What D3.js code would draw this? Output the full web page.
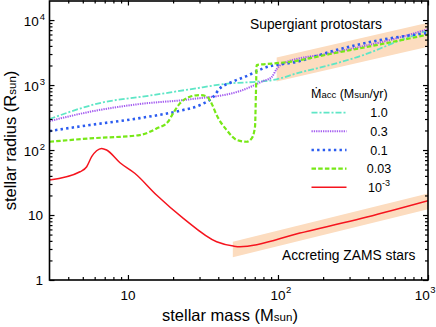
<!DOCTYPE html>
<html><head><meta charset="utf-8">
<script src="https://cdn.jsdelivr.net/npm/d3@7"></script>
<style>
html,body{margin:0;padding:0;background:#fff;}
svg{display:block;font-family:"Liberation Sans",Arial,Helvetica,sans-serif;}
</style></head>
<body><svg id="c" width="436" height="327"></svg>
<script>
// ---- data (stellar mass in Msun, stellar radius in Rsun) ----
const seriesNames = ["1.0", "0.3", "0.1", "0.03", "1e-3"];
const massA = [3, 6.5, 14.0, 25.9, 47.9, 72.1, 98, 133, 222, 371, 618, 1000];
const radA  = [300, 528, 689, 859, 1062, 1125, 1225, 1514, 2032, 2897, 4634, 7000];
const massB = [3, 5.58, 12.0, 25.9, 55.8, 79.4, 90.8, 98, 108, 222, 618, 1000];
const radB  = [279, 388, 511, 603, 809, 1148, 1327, 1762, 2158, 3090, 5248, 7244];
const massC = [3, 5.58, 12.0, 22.2, 30.2, 37.1, 41.0, 47.9, 61.8, 79.8, 140, 222, 479, 1000];
const radC  = [196, 243, 310, 403, 492, 661, 889, 1084, 1374, 1807, 2339, 3251, 4920, 6310];
const massD = [3, 5.58, 12.0, 15.6, 18.5, 20.0, 22.2, 25.9, 30.2, 33.7, 36.1, 39.0, 45.5, 53.1, 61.8, 66.8, 70.3, 71.3, 72.1, 84.1, 120, 222, 479, 1000];
const radD  = [134, 151, 170, 216, 272, 367, 522, 661, 702, 661, 522, 345, 203, 143, 134, 151, 228, 753, 2032, 2104, 2280, 3000, 4227, 5960];
const massE = [3, 4.79, 5.31, 5.73, 6.18, 6.68, 7.21, 8.85, 11.1, 15.5, 23.4, 39.0, 50.4, 55.8, 140, 392, 1000];
const radE  = [34.5, 46.3, 55.3, 78.9, 97.5, 106, 100, 63.8, 43.9, 20.3, 8.9, 3.88, 3.33, 3.25, 5.28, 9.31, 16.6];
// shaded bands
const bandSGMass = [98, 1000];
const bandSGLow  = [1130, 3880];
const bandSGHigh = [2650, 9100];
const bandZMass = [50, 1000];
const bandZLow  = [2.23, 12.3];
const bandZHigh = [3.88, 21.4];
// axes
const xDomain = [3, 1000];
const yDomain = [1, 20000];
const xMajor = [10, 100, 1000];
const xMajorLabels = [["10",""], ["10","2"], ["10","3"]];
const yMajor = [1, 10, 100, 1000, 10000];
const yMajorLabels = [["1",""], ["10",""], ["10","2"], ["10","3"], ["10","4"]];

const W = 436, H = 327;
const L = 49.5, R = 428, T = 0.5, B = 280;
const svg = d3.select("#c");
const x = d3.scaleLog().domain(xDomain).range([L, R]);
const y = d3.scaleLog().domain(yDomain).range([B, T]);

svg.append("defs").append("clipPath").attr("id","clip")
  .append("rect").attr("x",L).attr("y",T).attr("width",R-L).attr("height",B-T);
const plot = svg.append("g").attr("clip-path","url(#clip)");

const bandColor = "#fcdcbf";
function band(ms, lo, hi){
  const d = ms.map((m,i)=>({m, lo:lo[i], hi:hi[i]}));
  plot.append("path").datum(d)
    .attr("d", d3.area().x(p=>x(p.m)).y0(p=>y(p.lo)).y1(p=>y(p.hi)))
    .attr("fill", bandColor);
}
band(bandSGMass, bandSGLow, bandSGHigh);
band(bandZMass, bandZLow, bandZHigh);

const styles = [
  {m:massA, r:radA, color:"#5ee6c6", w:1.8, dash:"6,2,2,2"},
  {m:massB, r:radB, color:"#a45df0", w:2, dash:"1.3,1"},
  {m:massC, r:radC, color:"#2b5cf0", w:2.6, dash:"2.4,3.2"},
  {m:massD, r:radD, color:"#77e817", w:2.2, dash:"4.5,2.2"},
  {m:massE, r:radE, color:"#f5141e", w:1.5, dash:null}
];
const line = d3.line().x(p=>x(p[0])).y(p=>y(p[1])).curve(d3.curveMonotoneX);
styles.forEach(s=>{
  const pts = s.m.map((m,i)=>[m, s.r[i]]);
  plot.append("path").datum(pts).attr("d", line)
    .attr("fill","none").attr("stroke", s.color).attr("stroke-width", s.w)
    .attr("stroke-dasharray", s.dash);
});

// minor ticks
function minors(lo, hi){
  const out=[];
  for(let e=Math.floor(Math.log10(lo)); e<=Math.ceil(Math.log10(hi)); e++){
    for(let k=2;k<=9;k++){ const v=k*Math.pow(10,e); if(v>lo && v<hi) out.push(v); }
  }
  return out;
}
const xMin = minors(xDomain[0], xDomain[1]);
const yMin = minors(yDomain[0], yDomain[1]);
function drawAxis(gen, transform){
  const g = svg.append("g").attr("transform", transform).call(gen);
  g.select(".domain").remove();
  g.selectAll("line").attr("stroke","#000").attr("stroke-width",1.2);
  g.selectAll("text").remove();
}
drawAxis(d3.axisBottom(x).tickValues(xMajor).tickSize(-5).tickSizeOuter(0), `translate(0,${B})`);
drawAxis(d3.axisBottom(x).tickValues(xMin).tickSize(-3).tickSizeOuter(0), `translate(0,${B})`);
drawAxis(d3.axisTop(x).tickValues(xMajor).tickSize(-5).tickSizeOuter(0), `translate(0,${T})`);
drawAxis(d3.axisTop(x).tickValues(xMin).tickSize(-3).tickSizeOuter(0), `translate(0,${T})`);
drawAxis(d3.axisLeft(y).tickValues(yMajor).tickSize(-5).tickSizeOuter(0), `translate(${L},0)`);
drawAxis(d3.axisLeft(y).tickValues(yMin).tickSize(-3).tickSizeOuter(0), `translate(${L},0)`);
drawAxis(d3.axisRight(y).tickValues(yMajor).tickSize(-5).tickSizeOuter(0), `translate(${R},0)`);
drawAxis(d3.axisRight(y).tickValues(yMin).tickSize(-3).tickSizeOuter(0), `translate(${R},0)`);

svg.append("rect").attr("x",L).attr("y",T+0.5).attr("width",R-L).attr("height",B-T-0.5)
  .attr("fill","none").attr("stroke","#000").attr("stroke-width",1.6);

// tick labels
const tickFS = 13.5, supFS = 9.5;
xMajor.forEach((v,i)=>{
  const [base, sup] = xMajorLabels[i];
  const last = i === xMajor.length-1;
  const t = svg.append("text")
    .attr("x", last ? 435.5 : x(v) + (sup? 3:0)).attr("y", 299.5)
    .attr("text-anchor", last ? "end" : "middle").attr("font-size", tickFS).attr("fill","#000");
  t.append("tspan").text(base);
  if(sup) t.append("tspan").attr("font-size", supFS).attr("dy",-6.5).attr("dx",0.5).text(sup);
});
yMajor.forEach((v,i)=>{
  const [base, sup] = yMajorLabels[i];
  const t = svg.append("text").attr("x", sup ? 45 : 43).attr("y", y(v)+ (sup?6:5))
    .attr("text-anchor","end").attr("font-size", tickFS).attr("fill","#000");
  t.append("tspan").text(base);
  if(sup) t.append("tspan").attr("font-size", supFS).attr("dy",-6.5).attr("dx",1).text(sup);
});

// axis titles
const xl = svg.append("text").attr("x",162).attr("y",321).attr("font-size",16.5).attr("fill","#000");
xl.append("tspan").text("stellar mass (M");
xl.append("tspan").attr("font-size",11.5).text("sun");
xl.append("tspan").text(")");
const yl = svg.append("text").attr("transform","translate(16,140.5) rotate(-90)")
  .attr("text-anchor","middle").attr("font-size",16.5).attr("fill","#000");
yl.append("tspan").text("stellar radius (R");
yl.append("tspan").attr("font-size",11.5).text("sun");
yl.append("tspan").text(")");

// annotations
svg.append("text").attr("x",250).attr("y",29).attr("font-size",13.8).attr("fill","#000").text("Supergiant protostars");
svg.append("text").attr("x",282).attr("y",260).attr("font-size",13.8).attr("fill","#000").text("Accreting ZAMS stars");

// legend
const lt = svg.append("text").attr("x",311).attr("y",97.5).attr("font-size",12.5).attr("fill","#000");
lt.append("tspan").text("\u1E40");
lt.append("tspan").attr("font-size",9.5).text("acc");
lt.append("tspan").text(" (M");
lt.append("tspan").attr("font-size",9.5).text("sun");
lt.append("tspan").text("/yr)");
const legY0 = 112.7, legDY = 18.65;
styles.forEach((s,i)=>{
  const yy = legY0 + i*legDY;
  svg.append("line").attr("x1",311.5).attr("x2",346.5).attr("y1",yy).attr("y2",yy)
    .attr("stroke", s.color).attr("stroke-width", s.w).attr("stroke-dasharray", s.dash);
  const t = svg.append("text").attr("x",379).attr("y",yy+4.5).attr("text-anchor","middle")
    .attr("font-size",12.5).attr("fill","#000");
  if(seriesNames[i]==="1e-3"){
    t.append("tspan").text("10");
    t.append("tspan").attr("font-size",9).attr("dy",-5.5).text("-3");
  } else t.text(seriesNames[i]);
});
</script></body></html>
